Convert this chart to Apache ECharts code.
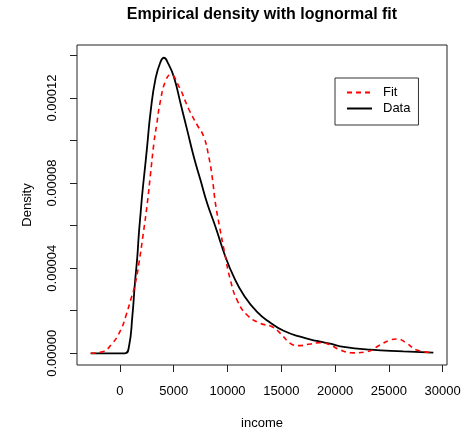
<!DOCTYPE html>
<html>
<head>
<meta charset="utf-8">
<script src="https://cdn.jsdelivr.net/npm/echarts@6/dist/echarts.min.js"></script>
<style>
html,body{margin:0;padding:0;background:#fff;}
#chart{width:462px;height:434px;}
</style>
</head>
<body>
<div id="chart"></div>
<script>
// Red dashed curve ("Fit")
const fitX = [-2718, -1633, -705, 65, 529, 993, 1391, 1762, 2171, 2542, 2848, 3154, 3400, 3775, 4239, 4703, 5473, 6401, 7180, 7792, 8256, 8571, 8877, 9260, 9720, 10269, 10890, 11818, 13052, 14137, 14907, 15835, 16604, 17690, 18617, 19545, 20473, 21710, 22947, 24184, 25112, 25787, 26656, 27584, 29128];
const fitY = [0, 7.5e-7, 4.7e-6, 1.09e-5, 1.72e-5, 2.5e-5, 3.2e-5, 4.23e-5, 5.64e-5, 7.05e-5, 8.46e-5, 9.87e-5, 1.07e-4, 1.19e-4, 1.28e-4, 1.31e-4, 1.255e-4, 1.147e-4, 1.073e-4, 1.018e-4, 9.24e-5, 8.3e-5, 7.05e-5, 5.95e-5, 4.75e-5, 3.44e-5, 2.5e-5, 1.8e-5, 1.41e-5, 1.25e-5, 9.4e-6, 4.7e-6, 3.6e-6, 4.4e-6, 5.0e-6, 3.9e-6, 1.55e-6, 2e-7, 7.5e-7, 3.9e-6, 6.2e-6, 6.7e-6, 4.7e-6, 1.55e-6, 2.8e-7];
// Black solid curve ("Data")
const dataX = [-2718, 460, 835, 1150, 1391, 1614, 1762, 1920, 2077, 2384, 2542, 2848, 3312, 3775, 4082, 4500, 5009, 5631, 6252, 6864, 7486, 8107, 8877, 9805, 10575, 11503, 12745, 13979, 15213, 16762, 18310, 19545, 20473, 23256, 26347, 29128];
const dataY = [0, 0, 3.1e-6, 1.72e-5, 3.29e-5, 4.54e-5, 5.64e-5, 6.58e-5, 7.5e-5, 9.0e-5, 9.8e-5, 1.135e-4, 1.292e-4, 1.37e-4, 1.389e-4, 1.36e-4, 1.30e-4, 1.175e-4, 1.049e-4, 9.24e-5, 8.14e-5, 7.05e-5, 5.95e-5, 4.54e-5, 3.6e-5, 2.74e-5, 1.95e-5, 1.44e-5, 1.06e-5, 7.8e-6, 5.8e-6, 4.5e-6, 3.3e-6, 1.7e-6, 9e-7, 3e-7];
const xTicks = [0, 5000, 10000, 15000, 20000, 25000, 30000];
const yTicks = [0, 0.00002, 0.00004, 0.00006, 0.00008, 0.0001, 0.00012, 0.00014];
const yLabels = [0, 0.00004, 0.00008, 0.00012];
const seriesNames = ['Fit', 'Data'];

const font = 'Liberation Sans, Arial, Helvetica, sans-serif';
const zip = (xs, ys) => xs.map((x, i) => [x, ys[i]]);

const chart = echarts.init(document.getElementById('chart'), null, {renderer: 'canvas'});
chart.setOption({
  animation: false,
  backgroundColor: '#fff',
  title: {
    text: 'Empirical density with lognormal fit',
    left: 257, top: 2, textAlign: 'center',
    textStyle: {fontFamily: font, fontSize: 16, fontWeight: 'bold', color: '#000'}
  },
  grid: {
    left: 77, right: 15, top: 45, bottom: 69,
    containLabel: false, outerBoundsMode: 'none',
    show: true, borderColor: '#222', borderWidth: 1, backgroundColor: 'transparent'
  },
  legend: {
    orient: 'vertical',
    left: 335, top: 78,
    data: seriesNames,
    itemWidth: 25, itemHeight: 14, itemGap: 3,
    padding: [8, 8, 10, 11],
    borderColor: '#333', borderWidth: 1, borderRadius: 0,
    backgroundColor: '#fff',
    itemStyle: {opacity: 0},
    textStyle: {fontFamily: font, fontSize: 13, color: '#000', padding: [0, 0, 0, 6]}
  },
  xAxis: {
    type: 'value', min: -3992, max: 30402,
    name: 'income', nameLocation: 'middle', nameGap: 52,
    nameTextStyle: {fontFamily: font, fontSize: 13, color: '#000'},
    axisLine: {show: false, onZero: false},
    splitLine: {show: false},
    axisTick: {show: true, inside: false, length: 7, lineStyle: {color: '#222'}, customValues: xTicks},
    axisLabel: {show: true, margin: 20, fontFamily: font, fontSize: 13, color: '#000', customValues: xTicks,
      formatter: v => String(Math.round(v))}
  },
  yAxis: {
    type: 'value', min: -0.0000055, max: 0.0001449,
    name: 'Density', nameLocation: 'middle', nameGap: 43, nameRotate: 90,
    nameTextStyle: {fontFamily: font, fontSize: 13, color: '#000'},
    axisLine: {show: false, onZero: false},
    splitLine: {show: false},
    axisTick: {show: true, inside: false, length: 7, lineStyle: {color: '#222'}, customValues: yTicks},
    axisLabel: {show: true, rotate: 90, margin: 18, fontFamily: font, fontSize: 13, color: '#000', customValues: yLabels,
      formatter: v => v.toFixed(5)}
  },
  series: [
    {
      name: 'Fit', type: 'line', data: zip(fitX, fitY), symbol: 'none', smooth: 0.5,
      lineStyle: {color: '#ff0000', width: 1.6, type: [5, 4]}, itemStyle: {color: '#ff0000'}, z: 3
    },
    {
      name: 'Data', type: 'line', data: zip(dataX, dataY), symbol: 'none', smooth: 0.5,
      lineStyle: {color: '#000', width: 1.8, type: 'solid'}, itemStyle: {color: '#000'}, z: 2
    }
  ]
});
</script>
</body>
</html>
